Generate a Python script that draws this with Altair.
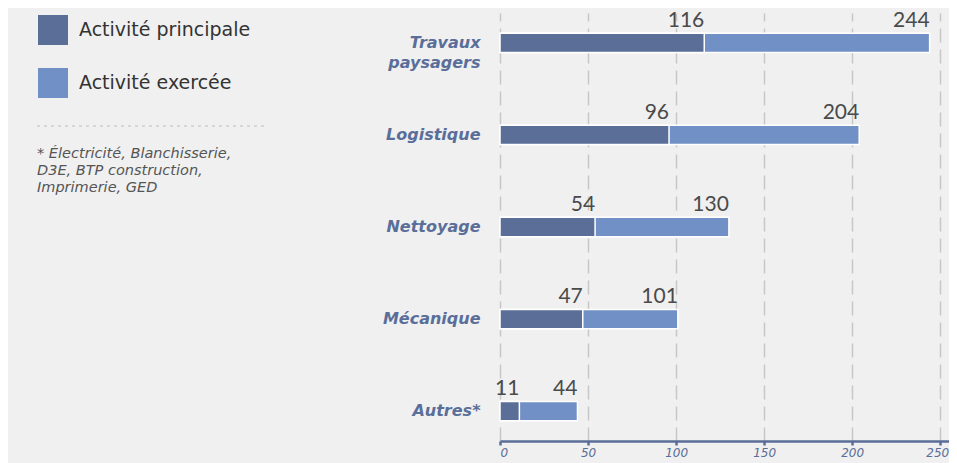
import altair as alt
import pandas as pd

categories = ["Travaux paysagers", "Logistique", "Nettoyage", "Mécanique", "Autres*"]
principale = [116, 96, 54, 47, 11]
exercee = [244, 204, 130, 101, 44]
series_names = ["Activité principale", "Activité exercée"]
x_ticks = [0, 50, 100, 150, 200, 250]
footnote = "* Électricité, Blanchisserie,\nD3E, BTP construction,\nImprimerie, GED"

DARK = "#5a6e98"
LIGHT = "#7191c6"
FONT = "DejaVu Sans"
NUMFONT = "Lato"

rows = []
for c, v in zip(categories, exercee):
    rows.append({"cat": c, "series": series_names[1], "value": v})
for c, v in zip(categories, principale):
    rows.append({"cat": c, "series": series_names[0], "value": v})
df = pd.DataFrame(rows)

x_enc = alt.X(
    "value:Q",
    scale=alt.Scale(domain=[0, 255], nice=False, zero=True),
    axis=alt.Axis(
        values=x_ticks, title=None, grid=True, gridDash=[14, 7], gridColor="#c6c6c6",
        gridWidth=1.5, domainColor=DARK, domainWidth=2.5, tickColor=DARK, tickWidth=2.5,
        tickSize=4, labelFont=FONT, labelFontSize=12, labelFontStyle="italic",
        labelColor=DARK, labelPadding=2,
        labelOffset={"condition": {"test": "datum.value == 250", "value": -3}, "value": 0},
    ),
)
y_enc = alt.Y(
    "cat:N", sort=categories, title=None,
    scale=alt.Scale(paddingInner=0.79, paddingOuter=0.22, align=0.5),
    axis=alt.Axis(
        domain=False, ticks=False, grid=False, labelFont=FONT, labelFontSize=16,
        labelFontWeight="bold", labelFontStyle="italic", labelColor="#5a6e9a",
        labelPadding=20, labelLineHeight=20, labelExpr="split(datum.label, ' ')",
    ),
)
color_enc = alt.Color(
    "series:N",
    scale=alt.Scale(domain=series_names, range=[DARK, LIGHT]),
    legend=alt.Legend(
        title=None, orient="none", legendX=-462, legendY=2, direction="vertical",
        symbolType="square", symbolSize=900, symbolStrokeWidth=0, symbolOpacity=1,
        labelFont=FONT, labelFontSize=19, labelColor="#333333", labelOffset=11,
        labelLimit=0, rowPadding=23, padding=0,
    ),
)

base = alt.Chart(df)
bars_light = base.transform_filter(alt.datum.series == series_names[1]).mark_bar(
    stroke="white", strokeWidth=1.5, opacity=1
).encode(x=x_enc, y=y_enc, color=color_enc)
bars_dark = base.transform_filter(alt.datum.series == series_names[0]).mark_bar(
    stroke="white", strokeWidth=1.5, opacity=1
).encode(x=x_enc, y=y_enc, color=color_enc)
labels = base.mark_text(
    align="right", baseline="alphabetic", dy=-16, font=NUMFONT, fontSize=21, color="#4a4a4a"
).encode(x=x_enc, y=y_enc, text="value:Q")

note = alt.Chart(pd.DataFrame({"t": [footnote]})).mark_text(
    align="left", baseline="alphabetic", lineBreak="\n", lineHeight=17,
    font=FONT, fontSize=14.5, fontStyle="italic", color="#555555",
).encode(x=alt.value(-463), y=alt.value(145), text="t:N")

sep = alt.Chart(pd.DataFrame({"a": [0]})).mark_rule(
    strokeDash=[3, 4], color="#bdbdbd", strokeWidth=1.2
).encode(x=alt.value(-463), x2=alt.value(-232), y=alt.value(113))

chart = alt.layer(bars_light, bars_dark, labels, note, sep).properties(
    width=449, height=428,
    autosize=alt.AutoSizeParams(type="none"),
    padding={"left": 492, "top": 5, "right": 0, "bottom": 22},
    background="#f0f0f0",
).configure_view(stroke=None)

chart.save("out.html", embed_options={"renderer": "svg", "actions": False})
